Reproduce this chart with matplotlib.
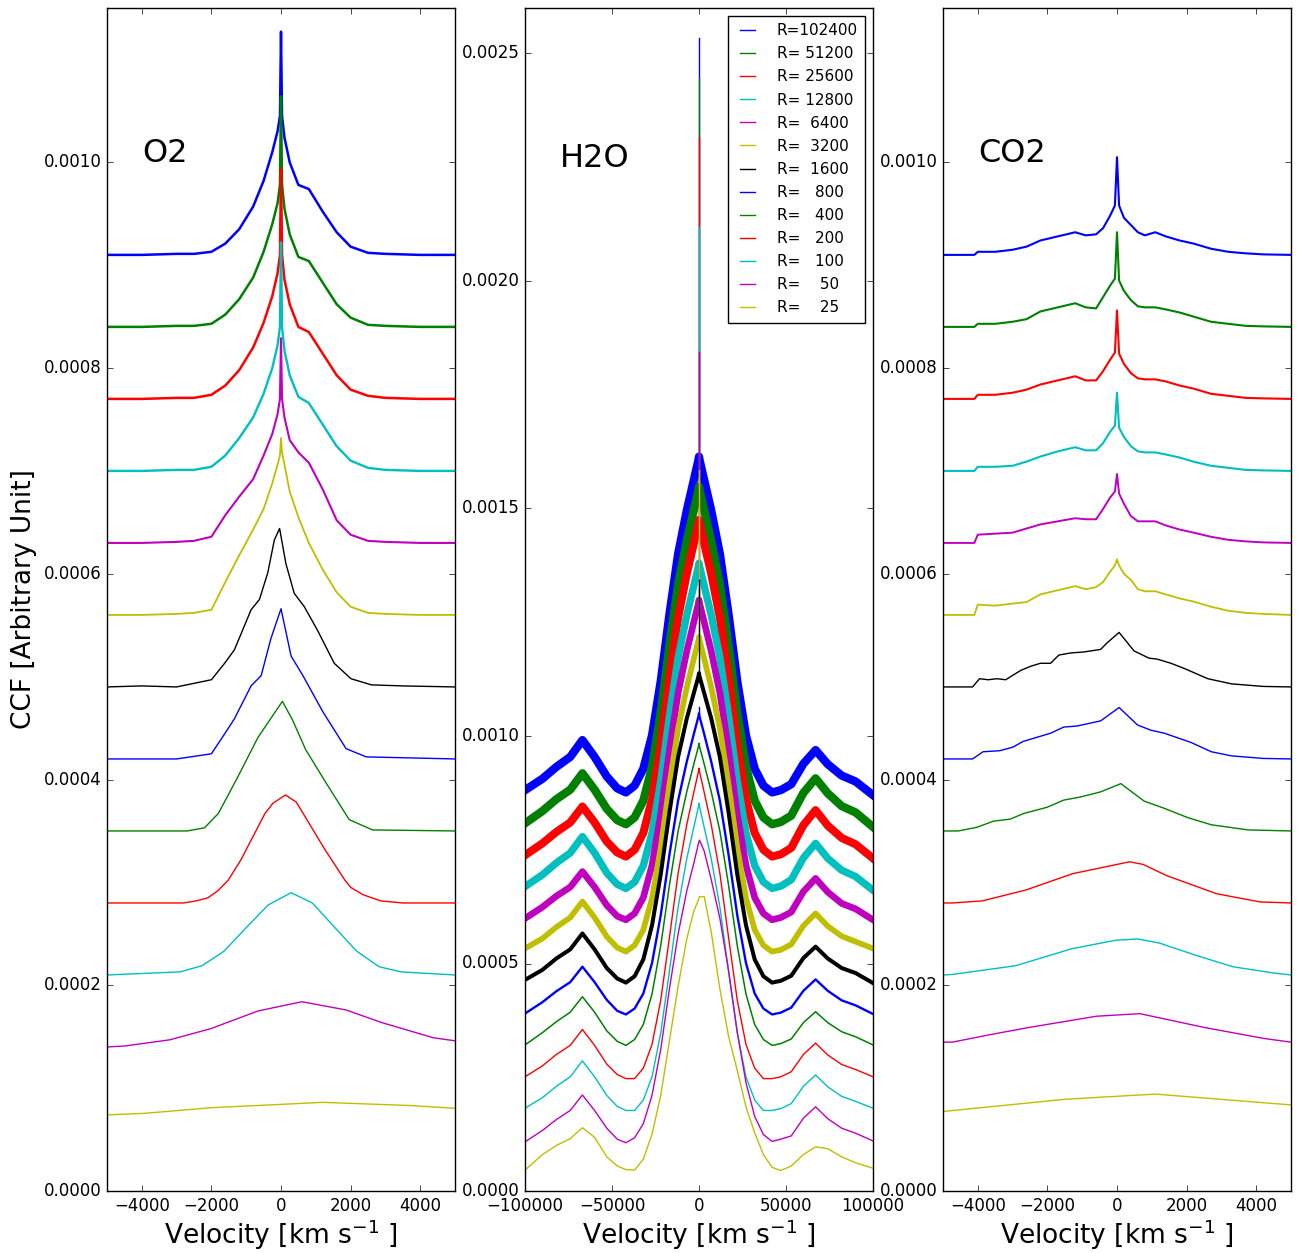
import matplotlib
matplotlib.use('Agg')
import matplotlib.pyplot as plt
from matplotlib.ticker import FormatStrFormatter

plt.style.use('classic')
plt.rcParams.update({'figure.facecolor': 'white', 'savefig.facecolor': 'white',
                     'mathtext.fontset': 'dejavusans', 'font.family': ['DejaVu Sans']})

UNIT = 1e-6  # all CCF numbers below are in units of 1e-6

# ---------------- common ----------------
resolutions = [25, 50, 100, 200, 400, 800, 1600, 3200, 6400, 12800, 25600, 51200, 102400]
colors = ['y', 'm', 'c', 'r', 'g', 'b', 'k', 'y', 'm', 'c', 'r', 'g', 'b']
offsets = [70, 140, 210, 280, 350, 420, 490, 560, 630, 700, 770, 840, 910]

# ---------------- O2 (values relative to offset) ----------------
o2_grid_hi = [-5000, -4000, -3000, -2500, -2000, -1600, -1200, -800, -500, -250, -100, -30, 0,
              30, 100, 250, 500, 800, 1200, 1600, 2000, 2500, 3000, 4000, 5000]
o2_vel = [
    [-5000, -3920, -2000, 0, 1200, 3760, 5000],
    [-5000, -4480, -3190, -2000, -1610, -660, 600, 1870, 2870, 4370, 5000],
    [-5000, -2900, -2270, -1640, -1000, -370, 290, 900, 1550, 2180, 2820, 3450, 5000],
    [-5000, -2800, -2440, -2100, -1810, -1520, -1150, -860, -460, -230, 130, 440, 690, 1260, 1840, 2010, 2360, 2870, 3500, 5000],
    [-5000, -2700, -2200, -1800, -1250, -660, 40, 330, 710, 1290, 1960, 2630, 5000],
    [-5000, -3000, -2000, -1530, -1340, -860, -570, -290, 0, 290, 630, 1200, 1870, 2450, 5000],
    [-5000, -4000, -3000, -2000, -1620, -1340, -860, -620, -380, -190, -40, 140, 380, 670, 1050, 1530, 2010, 2600, 3500, 5000],
    o2_grid_hi, o2_grid_hi, o2_grid_hi, o2_grid_hi, o2_grid_hi, o2_grid_hi,
]
o2_ccf = [
    [4, 5.5, 11, 14.2, 16.2, 13, 10.4],
    [0, 1, 7, 18, 23, 35, 44, 36, 24, 9, 6],
    [0, 3, 9, 23, 46, 68, 80, 70, 46, 23, 8, 3, 0],
    [0, 0, 2, 5, 12, 22, 42, 61, 87, 97, 105, 98, 84, 52, 22, 15, 8, 2, 0, 0],
    [0, 0, 3, 17, 52, 91, 126, 108, 79, 47, 11, 1, 0],
    [0, 0, 5, 29, 39, 71, 81, 117, 146, 100, 81, 46, 10, 2, 0],
    [0, 1, 0, 7, 23, 36, 75, 85, 111, 143, 154, 120, 91, 78, 55, 23, 8, 2, 1, 0],
    [0, 0, 1, 2, 5, 32, 58, 83, 103, 128, 146, 155, 172, 158, 146, 120, 95, 70, 44, 22, 8, 2, 1, 0, 0],
    [0, 0, 1, 2, 6, 27, 45, 62, 85, 106, 125, 140, 199, 140, 122, 100, 88, 78, 52, 22, 8, 2, 1, 0, 0],
    [0, 0, 1, 1, 4, 15, 32, 52, 75, 100, 122, 140, 222, 140, 117, 93, 72, 66, 45, 24, 10, 3, 1, 0, 0],
    [0, 0, 1, 1, 4, 13, 28, 50, 74, 100, 122, 140, 224, 140, 116, 92, 70, 65, 44, 23, 9, 3, 1, 0, 0],
    [0, 0, 1, 1, 3, 12, 27, 48, 73, 100, 120, 138, 224, 138, 115, 90, 68, 64, 43, 22, 9, 2, 1, 0, 0],
    [0, 0, 1, 1, 3, 11, 25, 47, 72, 100, 120, 135, 217, 135, 114, 90, 68, 64, 42, 22, 8, 2, 1, 0, 0],
]

# ---------------- H2O (absolute values) ----------------
h2o_vel = [-100000, -90000, -82000, -74000, -67000, -60000, -53000, -47000, -42000, -37000, -32000,
           -27000, -22000, -17000, -12000, -7000, -3000, -300, 0, 300, 3000, 7000, 12000, 17000,
           22000, 27000, 32000, 37000, 42000, 47000, 53000, 60000, 67000, 74000, 82000, 90000, 100000]
h2o_ccf = [
    [46, 80, 100, 115, 139, 118, 75, 55, 47, 46, 70, 125, 210, 330, 450, 554, 615, 640, 645, 647, 647, 570, 444, 340, 265, 185, 128, 80, 52, 45, 55, 80, 97, 93, 75, 62, 50],
    [108, 133, 157, 177, 211, 177, 138, 114, 106, 117, 148, 210, 311, 444, 565, 660, 720, 764, 768, 771, 747, 685, 599, 484, 349, 238, 164, 124, 109, 114, 121, 160, 185, 159, 138, 127, 110],
    [182, 205, 230, 251, 286, 251, 210, 186, 177, 177, 200, 251, 347, 483, 624, 731, 799, 845, 852, 845, 799, 731, 624, 483, 347, 251, 200, 177, 177, 181, 192, 230, 255, 229, 208, 197, 182],
    [251, 275, 300, 320, 355, 320, 279, 256, 247, 247, 270, 322, 419, 557, 698, 806, 876, 922, 929, 922, 876, 806, 698, 557, 419, 322, 270, 247, 247, 251, 262, 300, 325, 299, 278, 267, 251],
    [321, 348, 372, 393, 427, 393, 352, 329, 320, 333, 366, 433, 539, 672, 791, 878, 938, 977, 984, 977, 938, 878, 791, 672, 539, 433, 366, 333, 320, 324, 334, 370, 394, 370, 350, 339, 321],
    [390, 415, 439, 459, 493, 459, 420, 396, 388, 401, 434, 501, 606, 739, 858, 944, 1004, 1043, 1050, 1043, 1004, 944, 858, 739, 606, 501, 434, 401, 388, 392, 403, 440, 465, 440, 419, 408, 389],
    [464, 486, 511, 531, 566, 531, 490, 467, 458, 472, 509, 584, 696, 832, 954, 1039, 1094, 1131, 1138, 1131, 1094, 1039, 954, 832, 696, 584, 509, 472, 458, 462, 473, 512, 537, 511, 490, 479, 457],
    [533, 555, 580, 601, 636, 601, 559, 535, 526, 540, 574, 644, 754, 893, 1017, 1107, 1170, 1211, 1218, 1211, 1170, 1107, 1017, 893, 754, 644, 574, 540, 526, 530, 542, 583, 610, 582, 560, 548, 533],
    [599, 624, 648, 668, 702, 668, 628, 604, 596, 610, 645, 716, 828, 969, 1095, 1187, 1250, 1292, 1299, 1292, 1250, 1187, 1095, 969, 828, 716, 645, 610, 596, 601, 613, 658, 687, 657, 632, 620, 596],
    [669, 695, 721, 743, 779, 743, 699, 674, 665, 679, 715, 787, 901, 1044, 1173, 1266, 1330, 1373, 1380, 1373, 1330, 1266, 1173, 1044, 901, 787, 715, 679, 665, 670, 684, 732, 764, 731, 705, 691, 661],
    [738, 764, 789, 810, 845, 810, 768, 744, 735, 750, 787, 861, 979, 1127, 1260, 1357, 1423, 1468, 1475, 1468, 1423, 1357, 1260, 1127, 979, 861, 787, 750, 735, 740, 754, 804, 837, 803, 776, 762, 731],
    [808, 835, 861, 882, 918, 882, 840, 815, 806, 821, 858, 932, 1051, 1199, 1333, 1429, 1496, 1541, 1548, 1541, 1496, 1429, 1333, 1199, 1051, 932, 858, 821, 806, 811, 825, 875, 907, 874, 846, 832, 800],
    [881, 906, 932, 954, 991, 954, 911, 885, 876, 891, 928, 1001, 1120, 1267, 1400, 1496, 1562, 1607, 1614, 1607, 1562, 1496, 1400, 1267, 1120, 1001, 928, 891, 876, 881, 894, 939, 969, 938, 913, 900, 870],
]
h2o_spike = [None, None, None, None, None, 1064, 1343, 1585, 1844, 2119, 2316, 2446, 2535]

# ---------------- CO2 (values relative to offset) ----------------
co2_grid_hi = [-5000, -4100, -4000, -3500, -3000, -2600, -2200, -1700, -1200, -900, -600, -400, -200, -60, 0,
               60, 200, 400, 600, 800, 1100, 1400, 1800, 2200, 2700, 3200, 3700, 4200, 5000]
co2_vel = [
    [-5000, -1480, 1100, 5000],
    [-5000, -4730, -3660, -2510, -590, 660, 2490, 4220, 5000],
    [-5000, -4730, -2910, -1290, -30, 600, 1220, 2280, 3330, 4480, 5000],
    [-5000, -4730, -3870, -2620, -1270, 360, 750, 1420, 2860, 4110, 5000],
    [-5000, -4560, -4030, -3550, -3070, -2680, -2010, -1530, -1050, -470, 110, 780, 1360, 2030, 2710, 3770, 5000],
    [-5000, -4150, -3850, -3370, -2990, -2700, -1910, -1530, -1150, -470, 60, 590, 970, 1360, 2130, 2710, 3290, 4200, 5000],
    [-5000, -4150, -3950, -3700, -3450, -3200, -2770, -2490, -2200, -1910, -1670, -1340, -950, -470, -280, 60, 490, 920, 1160, 1550, 1930, 2610, 3290, 4200, 5000],
    co2_grid_hi, co2_grid_hi, co2_grid_hi, co2_grid_hi, co2_grid_hi, co2_grid_hi,
]
co2_ccf = [
    [7.3, 19.2, 24.2, 13.7],
    [4.7, 4.7, 11.9, 19.1, 29.9, 32.4, 19.1, 8.3, 4.7],
    [0, 0.5, 9, 25.6, 33.8, 35, 31, 19, 8, 2, 0],
    [0, 0, 2, 12.6, 28.5, 40, 37.5, 26.7, 9, 1, 0],
    [0, 0, 3.5, 9.5, 11.5, 17, 23, 30, 33, 38, 46, 29, 22, 13, 6, 1, 0],
    [0, 0, 7, 8, 11.5, 17, 25, 31, 32, 37, 50, 33, 28, 25, 16, 7, 3, 0.5, 0],
    [0, 0, 8, 7, 8, 7, 16, 20, 23, 23, 31, 33, 34, 36.5, 43, 53, 35, 28, 27, 23, 18, 8, 3, 0.5, 0],
    [0, 0, 10, 9, 11, 12.5, 20, 24, 28, 25, 27, 32, 42, 48, 54, 48, 40, 34, 25, 23, 23, 20, 16, 13, 8, 4, 2, 1, 0],
    [0, 0, 8, 9, 10, 14, 18, 21, 24, 23, 23, 33, 44, 50, 67, 48, 38, 26, 21, 21, 21, 17, 13, 10, 6, 3, 1.5, 0.5, 0],
    [0, 0, 4, 4, 5, 9, 14, 19, 23, 20, 20, 27, 38, 44, 76, 42, 33, 24, 19, 18, 18, 16, 13, 9, 5, 3, 1, 0.5, 0],
    [0, 0, 4, 4, 6, 9, 14, 18, 22, 18, 18, 27, 38, 45, 86, 44, 34, 25, 20, 19, 19, 17, 13, 10, 5, 3, 1, 0.5, 0],
    [0, 0, 3, 3, 5, 7.5, 15, 19, 23, 19, 18, 29, 40, 47, 92, 45, 35, 26, 20, 19, 19, 17, 14, 10, 5, 3, 1, 0.5, 0],
    [0, 0, 3, 3, 5, 8, 14, 18, 22, 19, 20, 26, 38, 48, 95, 48, 36, 29, 22, 19, 22, 18, 14, 11, 6, 3, 1.5, 0.5, 0],
]

# line widths imitating the noise band of the high-resolution curves
lw_o2 = [1, 1, 1, 1, 1, 1, 1, 1.3, 1.5, 1.7, 1.8, 1.8, 1.8]
lw_h2o = [1, 1, 1, 1, 1.1, 1.7, 2.9, 4.1, 4.8, 5.3, 5.8, 6.0, 6.0]
lw_co2 = [1, 1, 1, 1, 1, 1, 1, 1.3, 1.4, 1.5, 1.5, 1.5, 1.5]

# ---------------- figure ----------------
fig = plt.figure(figsize=(12.97, 12.53), dpi=100)
W, H, B = 348 / 1297, 1183 / 1253, 62 / 1253
ax1 = fig.add_axes([107 / 1297, B, W, H])
ax2 = fig.add_axes([525 / 1297, B, W, H])
ax3 = fig.add_axes([943 / 1297, B, W, H])

order = list(range(len(resolutions)))[::-1]

for k in order:
    ax1.plot(o2_vel[k], [(v + offsets[k]) * UNIT for v in o2_ccf[k]], color=colors[k], lw=lw_o2[k])

lines = []
for k in order:
    ln, = ax2.plot(h2o_vel, [v * UNIT for v in h2o_ccf[k]], color=colors[k], lw=lw_h2o[k],
                   label='R=%6d' % resolutions[k])
    lines.append(ln)
    if h2o_spike[k] is not None:
        i0 = h2o_vel.index(0)
        ax2.plot([0, 0], [h2o_ccf[k][i0] * UNIT, h2o_spike[k] * UNIT], color=colors[k], lw=1)

for k in order:
    ax3.plot(co2_vel[k], [(v + offsets[k]) * UNIT for v in co2_ccf[k]], color=colors[k], lw=lw_co2[k])

for ax in (ax1, ax3):
    ax.set_xlim(-5000, 5000)
    ax.set_ylim(0, 0.00115)
    ax.set_xticks([-4000, -2000, 0, 2000, 4000])
    ax.set_yticks([0, 0.0002, 0.0004, 0.0006, 0.0008, 0.0010])
ax2.set_xlim(-100000, 100000)
ax2.set_ylim(0, 0.0026)
ax2.set_xticks([-100000, -50000, 0, 50000, 100000])
ax2.set_yticks([0, 0.0005, 0.0010, 0.0015, 0.0020, 0.0025])

for ax in (ax1, ax2, ax3):
    ax.yaxis.set_major_formatter(FormatStrFormatter('%.4f'))
    ax.tick_params(labelsize=12)
    ax.set_xlabel('Velocity [km s$^{-1}$ ]', fontsize=19, labelpad=2)

ax1.set_ylabel('CCF [Arbitrary Unit]', fontsize=19)

ax1.text(-4000, 0.0010, 'O2', fontsize=23)
ax2.text(-80000, 0.00225, 'H2O', fontsize=23)
ax3.text(-4000, 0.0010, 'CO2', fontsize=23)

leg = ax2.legend(handles=lines, loc='upper right', prop={'size': 11}, handlelength=1.6,
                 handletextpad=1.1, labelspacing=0.53, borderpad=0.5, frameon=True, fancybox=False)
for h in leg.get_lines():
    h.set_linewidth(1)

fig.savefig('out.png', dpi=100)
